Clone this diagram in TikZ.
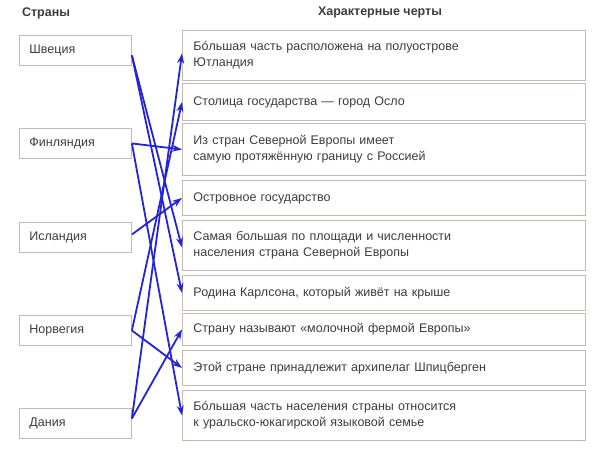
\documentclass[tikz,border=0pt]{standalone}
\usepackage{fontspec}
\setmainfont{Liberation Sans}
\usetikzlibrary{arrows.meta}
\definecolor{tx}{RGB}{60,60,60}
\definecolor{bd}{RGB}{200,185,175}
\definecolor{ar}{RGB}{35,35,220}
\tikzset{
 lb/.style={draw=bd,line width=0.9pt,minimum width=112pt,minimum height=30pt,anchor=north west,text=tx,font=\fontsize{12.5}{14}\selectfont,align=left,inner xsep=10pt,text width=92pt},
 rb/.style={draw=bd,line width=0.9pt,minimum width=403pt,anchor=north west,text=tx,font=\fontsize{12.5}{16}\selectfont,align=left,inner xsep=11pt,text width=381pt},
 hd/.style={text=tx,font=\bfseries\fontsize{12.5}{14}\selectfont},
 ar/.style={draw=ar,line width=1.8pt,-{Stealth[length=10pt,width=7pt]}}
}
\begin{document}
\begin{tikzpicture}[x=1pt,y=-1pt]
\useasboundingbox (0,0) rectangle (602,449);
\node[hd] (h1) at (46,13) {Страны};
\node[hd] (h2) at (380,13) {Характерные черты};
\node[lb] (sw) at (19,35) {Швеция};
\node[lb] (fi) at (19,128) {Финляндия};
\node[lb] (is) at (19,222) {Исландия};
\node[lb] (no) at (19,315) {Норвегия};
\node[lb] (da) at (19,408) {Дания};
\node[rb,minimum height=50pt] (r1) at (182,30) {Бóльшая часть расположена на полуострове\\Ютландия};
\node[rb,minimum height=37pt] (r2) at (182,83) {Столица государства — город Осло};
\node[rb,minimum height=52pt] (r3) at (182,123) {Из стран Северной Европы имеет\\самую протяжённую границу с Россией};
\node[rb,minimum height=35pt] (r4) at (182,180) {Островное государство};
\node[rb,minimum height=50pt] (r5) at (182,220) {Самая большая по площади и численности\\населения страна Северной Европы};
\node[rb,minimum height=35pt] (r6) at (182,275) {Родина Карлсона, который живёт на крыше};
\node[rb,minimum height=32pt] (r7) at (182,313) {Страну называют «молочной фермой Европы»};
\node[rb,minimum height=35pt] (r8) at (182,350) {Этой стране принадлежит архипелаг Шпицберген};
\node[rb,minimum height=50pt] (r9) at (182,390) {Бóльшая часть населения страны относится\\к уральско-юкагирской языковой семье};
\draw[ar] ([yshift=-5pt]sw.east) -- ([yshift=-2pt]r5.west);
\draw[ar] ([yshift=-5pt]sw.east) -- (r6.west);
\draw[ar] (fi.east) -- (r3.west);
\draw[ar] (fi.east) -- (r9.west);
\draw[ar] ([yshift=3pt]is.east) -- (r4.west);
\draw[ar] (no.east) -- (r2.west);
\draw[ar] (no.east) -- (r8.west);
\draw[ar] ([yshift=5pt]da.east) -- ([yshift=2pt]r1.west);
\draw[ar] ([yshift=5pt]da.east) -- (r7.west);
\end{tikzpicture}
\end{document}
